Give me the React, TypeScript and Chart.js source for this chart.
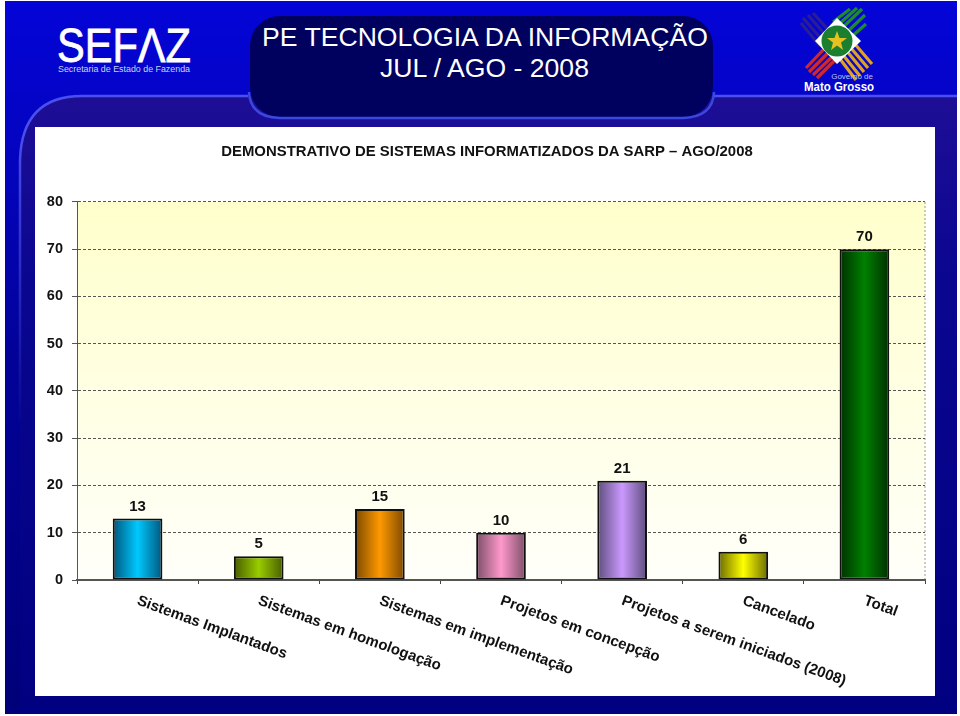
import React, { useEffect, useRef } from "react";
import { Chart, registerables } from "chart.js";

Chart.register(...registerables);

const categories = [
  "Sistemas Implantados",
  "Sistemas em homologação",
  "Sistemas em implementação",
  "Projetos em concepção",
  "Projetos a serem iniciados (2008)",
  "Cancelado",
  "Total",
];
const values = [13, 5, 15, 10, 21, 6, 70];
const barBright = ["#00C8FF", "#99CC00", "#FF9900", "#FF99CC", "#CC99FF", "#FFFF00", "#008000"];
const barDark = ["#005A80", "#4A6000", "#804C00", "#80506A", "#605080", "#707000", "#003300"];
const chartTitle = "DEMONSTRATIVO DE SISTEMAS INFORMATIZADOS DA SARP – AGO/2008";
const FONT = '"Liberation Sans", Arial, sans-serif';

const chartDecor = {
  id: "chartDecor",
  beforeLayout(chart: any) {
    // Labels start at the tick and run down to the right.
    if (chart.scales.x) chart.scales.x._getXAxisLabelAlignment = () => "left";
  },
  beforeDraw(chart: any) {
    const { ctx, chartArea: a } = chart;
    if (!a) return;
    const g = ctx.createLinearGradient(0, a.top, 0, a.bottom);
    g.addColorStop(0, "#FFFFCC");
    g.addColorStop(1, "#FFFFFA");
    ctx.save();
    ctx.fillStyle = g;
    ctx.fillRect(a.left, a.top, a.right - a.left, a.bottom - a.top);
    ctx.strokeStyle = "#999999";
    ctx.setLineDash([2, 2]);
    ctx.lineWidth = 1;
    ctx.beginPath();
    ctx.moveTo(a.right, a.bottom);
    ctx.lineTo(a.right, a.top);
    ctx.stroke();
    ctx.restore();
  },
  afterDatasetsDraw(chart: any) {
    const { ctx } = chart;
    const meta = chart.getDatasetMeta(0);
    ctx.save();
    ctx.font = `bold 15px ${FONT}`;
    ctx.fillStyle = "#111111";
    ctx.textAlign = "center";
    ctx.textBaseline = "alphabetic";
    meta.data.forEach((bar: any, i: number) => {
      ctx.fillText(String(values[i]), bar.x, bar.y - 8);
    });
    ctx.restore();
  },
};

function barFill(c: any) {
  const { chart, dataIndex: i } = c;
  const x = chart.scales.x;
  if (!x || !chart.chartArea) return barBright[i];
  const cx = x.getPixelForValue(i);
  const g = chart.ctx.createLinearGradient(cx - 24, 0, cx + 24, 0);
  g.addColorStop(0, barDark[i]);
  g.addColorStop(0.5, barBright[i]);
  g.addColorStop(1, barDark[i]);
  return g;
}

export default function App() {
  const ref = useRef<HTMLCanvasElement>(null);
  useEffect(() => {
    document.body.style.margin = "0";
    const chart = new Chart(ref.current!, {
      type: "bar",
      data: {
        labels: categories,
        datasets: [
          {
            data: values,
            backgroundColor: barFill,
            borderColor: "#101010",
            borderWidth: 2,
            borderSkipped: false,
            barPercentage: 0.41,
            categoryPercentage: 1,
          },
        ],
      },
      options: {
        animation: false,
        responsive: false,
        layout: { padding: 0 },
        plugins: {
          legend: { display: false },
          tooltip: { enabled: false },
          title: {
            display: true,
            text: chartTitle,
            color: "#111111",
            font: { family: FONT, size: 14.9, weight: "bold" },
            padding: { top: 16, bottom: 41 },
            lineHeight: 1.2,
          },
        },
        scales: {
          x: {
            afterFit: (s: any) => {
              s.height = 116;
              s.paddingLeft = 0;
              s.paddingRight = 14;
            },
            border: { color: "#555555", width: 2 },
            grid: { drawOnChartArea: false, drawTicks: true, tickLength: 4, color: "#444444", offset: true },
            ticks: {
              autoSkip: false,
              minRotation: -20,
              maxRotation: -20,
              padding: 8,
              color: "#111111",
              font: { family: FONT, size: 15, weight: "bold" },
            },
          },
          y: {
            min: 0,
            max: 80,
            afterFit: (s: any) => {
              s.width = 42;
              s.paddingTop = 0;
              s.paddingBottom = 0;
            },
            border: { color: "#555555", width: 1, dash: [3, 2] },
            grid: { color: "#555555", lineWidth: 1, tickLength: 5, tickBorderDash: [] },
            ticks: {
              stepSize: 10,
              padding: 9,
              color: "#111111",
              font: { family: FONT, size: 14.5, weight: "bold" },
            },
          },
        },
      } as any,
      plugins: [chartDecor],
    });
    return () => chart.destroy();
  }, []);

  const star = "837,31 839.5,38 847,38 841,42.5 843,50 837,45.5 831,50 833,42.5 827,38 834.5,38";

  return (
    <div style={{ position: "relative", width: 960, height: 716, overflow: "hidden", background: "#FFFFFF" }}>
      <svg width={960} height={716} style={{ position: "absolute", left: 0, top: 0 }}>
        <defs>
          <linearGradient id="top" x1="0" y1="0" x2="0" y2="1">
            <stop offset="0" stopColor="#0404D8" />
            <stop offset="0.18" stopColor="#0404C4" />
            <stop offset="0.5" stopColor="#020298" />
            <stop offset="1" stopColor="#000078" />
          </linearGradient>
          <linearGradient id="low" x1="0" y1="0" x2="0" y2="1">
            <stop offset="0" stopColor="#1E0E96" />
            <stop offset="0.3" stopColor="#0A0690" />
            <stop offset="1" stopColor="#000080" />
          </linearGradient>
          <linearGradient id="edge" gradientUnits="userSpaceOnUse" x1="0" y1="130" x2="0" y2="420">
            <stop offset="0" stopColor="#4A50F0" />
            <stop offset="1" stopColor="#080690" />
          </linearGradient>
        </defs>
        <rect x={5} y={1} width={952} height={713} fill="url(#top)" />
        <path d="M20 714 L20 160 Q22 96 82 96 L957 96 L957 714 Z" fill="url(#low)" />
        <path d="M20 420 L20 160 Q22 96 82 96 L248 96" fill="none" stroke="url(#edge)" strokeWidth={2.5} />
        <path d="M714 96 L957 96" fill="none" stroke="#4A50F0" strokeWidth={2.5} />
        <rect x={250} y={16} width={463} height={101} rx={30} fill="#00005E" />
        <path d="M249 92 Q250 117 280 118 L683 118 Q713 117 714 92" fill="none" stroke="#3A48E0" strokeWidth={2.5} />
        <text x={485} y={46} textAnchor="middle" fontFamily={FONT} fontSize={26.6} fill="#FFFFFF">
          PE TECNOLOGIA DA INFORMAÇÃO
        </text>
        <text x={484.5} y={77} textAnchor="middle" fontFamily={FONT} fontSize={26.6} fill="#FFFFFF">
          JUL / AGO - 2008
        </text>
        <text x={57} y={62} fontFamily={FONT} fontSize={48} fill="#FFFFFF" stroke="#FFFFFF" strokeWidth={0.8} textLength={134} lengthAdjust="spacingAndGlyphs">
          SEFΛZ
        </text>
        <text x={58} y={72} fontFamily={FONT} fontSize={8.5} fill="#C8D4F0" textLength={132} lengthAdjust="spacingAndGlyphs">
          Secretaria de Estado de Fazenda
        </text>
        <g strokeWidth={3.2} fill="none">
          <path d="M833 22 L850 9 M837 26 L857 8 M841 29 L862 9 M846 33 L865 15 M850 38 L866 24" stroke="#1E8A2E" />
          <path d="M803 18 L824 42 M808 15 L828 38 M813 13 L832 34 M801 23 L820 46" stroke="#2A1E96" />
          <path d="M806 68 L824 49 M809 72 L828 53 M813 75 L832 57 M817 78 L835 60" stroke="#D02828" />
          <path d="M868 68 L850 47 M864 72 L846 50 M860 76 L843 55 M856 80 L840 59 M872 64 L854 43" stroke="#E0A020" />
        </g>
        <path d="M837 18 L861 41 L837 64 L815 41 Z" fill="#FFFFFF" />
        <circle cx={837} cy={41} r={15.5} fill="#1A8030" />
        <polygon points={star} fill="#E8C020" />
        <text x={873} y={79} textAnchor="end" fontFamily={FONT} fontSize={8} fill="#B8C4F0">
          Governo de
        </text>
        <text x={804} y={91} fontFamily={FONT} fontSize={13.5} fontWeight="bold" fill="#FFFFFF" textLength={70} lengthAdjust="spacingAndGlyphs">
          Mato Grosso
        </text>
        <rect x={35} y={127} width={900} height={569} fill="#FFFFFF" />
      </svg>
      <canvas
        ref={ref}
        width={904}
        height={569}
        style={{ position: "absolute", left: 35, top: 127, display: "block" }}
      />
    </div>
  );
}
